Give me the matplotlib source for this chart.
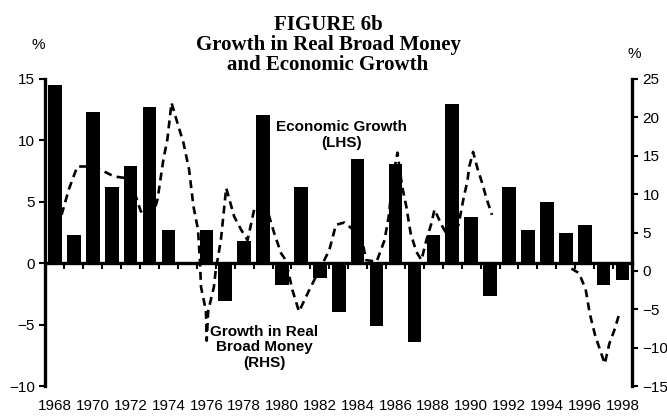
import numpy as np
import matplotlib
matplotlib.use("Agg")
import matplotlib.pyplot as plt

plt.rcParams['font.family'] = ['Liberation Sans', 'DejaVu Sans']

# economic growth, % (LHS), annual
years = list(range(1968, 1999))
growth = [14.5, 2.3, 12.3, 6.2, 7.9, 12.7, 2.7, 0.0, 2.7, -3.1,
          1.8, 12.1, -1.8, 6.2, -1.2, -4.0, 8.5, -5.1, 8.1, -6.4,
          2.3, 13.0, 3.8, -2.7, 6.2, 2.7, 5.0, 2.5, 3.1, -1.8, -1.4]

# growth in real broad money, % (RHS), sub-annual readings, gap 1991-1995
money_t = [1968.35, 1968.73, 1969.18, 1969.7, 1970.24, 1971.12, 1971.74, 1972.18,
           1972.53, 1973.06, 1973.42, 1973.73, 1973.94, 1974.16, 1974.47, 1974.79,
           1975.09, 1975.32, 1975.56, 1975.66, 1975.72, 1975.98, 1976.02, 1976.1,
           1976.4, 1976.5, 1976.77, 1977.05, 1977.47, 1977.83, 1978.18, 1978.53,
           1978.89, 1979.24, 1979.59, 1979.95, 1980.2, 1980.55, 1980.9, 1981.44,
           1981.97, 1982.5, 1982.85, 1983.3, 1984.19, 1984.45, 1985.0, 1985.42,
           1985.64, 1985.87, 1986.1, 1986.35, 1986.57, 1986.8, 1987.1, 1987.37,
           1987.63, 1987.9, 1988.06, 1988.43, 1988.86, 1989.33, 1989.6, 1989.8,
           1989.9, 1990.1, 1990.35, 1990.6, 1990.8, 1991.1, 1993.0,
           1995.3, 1995.7, 1996.05, 1996.27, 1996.55, 1997.06, 1997.3, 1997.6, 1997.8]
money = [7.3, 10.6, 13.6, 13.6, 13.4, 12.3, 12.1, 10.4,
         7.8, 6.2, 9.3, 14.5, 17.1, 21.9, 19.3, 16.7,
         13.2, 8.4, 5.4, 1.4, -2.1, -5.2, -9.1, -5.2,
         -2.1, 0.1, 4.0, 10.8, 7.1, 5.4, 4.0, 8.0,
         8.2, 7.8, 4.9, 2.3, 1.4, -2.5, -5.3, -2.5,
         0.1, 2.7, 6.0, 6.3, 4.5, 1.4, 1.2, 4.0,
         7.1, 12.3, 15.4, 11.0, 8.4, 4.9, 2.5, 1.4,
         4.0, 6.2, 8.0, 6.0, 4.1, 6.0, 9.5, 11.7,
         13.6, 15.5, 13.2, 11.3, 9.5, 7.3, np.nan,
         0.3, -0.3, -2.4, -5.6, -8.4, -12.1, -9.5, -7.5, -5.8]

year_labels = [str(y) for y in years[::2]]

W, H = 667, 418
fig = plt.figure(figsize=(W / 100, H / 100), dpi=100)
ax = fig.add_axes([45.5 / W, 1 - 386 / H, (632 - 45.5) / W, (386 - 79) / H])

ax.bar(years, growth, width=0.72, color='black', zorder=2)
ax.set_xlim(1967.5, 1998.5)
ax.set_ylim(-10, 15)
ax.set_yticks([-10, -5, 0, 5, 10, 15])

for s in ['top', 'right']:
    ax.spines[s].set_visible(False)
ax.spines['bottom'].set_position(('data', 0))
ax.spines['bottom'].set_linewidth(2.4)
ax.spines['left'].set_linewidth(2.4)
ax.set_xticks(np.arange(1967.5, 1999, 1))
ax.tick_params(axis='x', direction='out', length=4, width=1.5, labelbottom=False)
ax.tick_params(axis='y', direction='out', length=4.5, width=1.5, labelsize=11, pad=3)

sec = ax.secondary_xaxis(0.0)
sec.set_xticks(years[::2], year_labels)
sec.tick_params(length=0, labelsize=11, pad=9)
sec.spines['bottom'].set_visible(False)

ax2 = ax.twinx()
ax2.plot(money_t, money, color='black', lw=1.9, dashes=(3, 2))
ax2.set_ylim(-15, 25)
ax2.set_yticks([-15, -10, -5, 0, 5, 10, 15, 20, 25])
for s in ['top', 'left', 'bottom']:
    ax2.spines[s].set_visible(False)
ax2.spines['right'].set_linewidth(2.4)
ax2.tick_params(axis='y', direction='out', length=4.5, width=1.5, labelsize=11, pad=3)

# titles
tx = 328 / W
for txt, base in [("FIGURE 6b", 30), ("Growth in Real Broad Money", 50),
                  ("and Economic Growth", 70)]:
    fig.text(tx, 1 - base / H, txt, ha='center', va='baseline',
             family='Liberation Serif', weight='bold', fontsize=15)

fig.text(38 / W, 1 - 45 / H, "%", ha='center', va='center', fontsize=11)
fig.text(634 / W, 1 - 54 / H, "%", ha='center', va='center', fontsize=11)

fig.text(342 / W, 1 - 135 / H, "Economic Growth\n(LHS)", ha='center', va='center',
         weight='bold', fontsize=11, linespacing=1.1)
fig.text(264 / W, 1 - 347.5 / H, "Growth in Real\nBroad Money\n(RHS)", ha='center',
         va='center', weight='bold', fontsize=11, linespacing=1.1)

fig.savefig("out.png", dpi=100)
